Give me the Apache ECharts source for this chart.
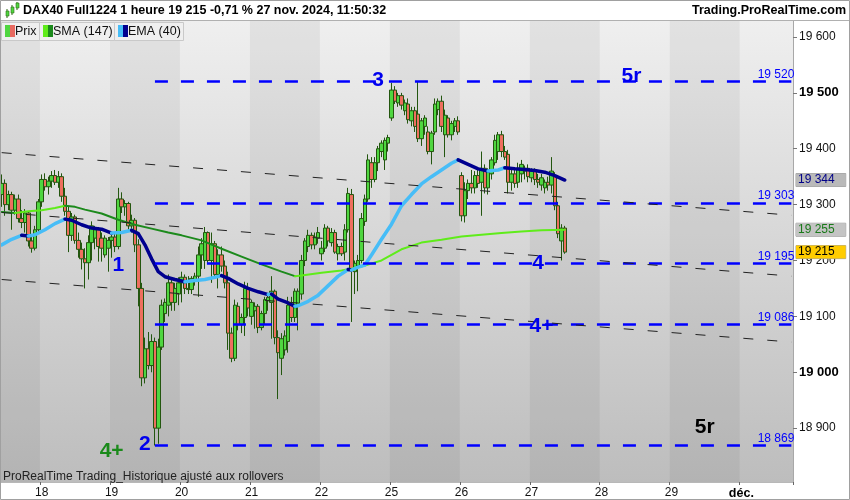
<!DOCTYPE html>
<html><head><meta charset="utf-8">
<script src="https://cdn.jsdelivr.net/npm/echarts@6/dist/echarts.min.js"></script>
<style>html,body{margin:0;padding:0;background:#fff}#c{width:850px;height:500px}</style>
</head><body><div id="c"></div>
<script>
const FONT = "'Liberation Sans', Arial, sans-serif";
// x axis: hourly slots (01:00-21:00 each trading day), Fri 15 nov partial
const dayLabels = ['18','19','20','21','22','25','26','27','28','29','déc.'];
const firstDaySlots = 12;
const slotsPerDay = 21;
const totalSlots = 238;
// OHLC (hourly) 15 nov 10h -> 27 nov 11h
const open = [
19318,19338,19300,19318,19290,19310,19275,19268,19285,19235,19222,19255,
19305,19345,19332,19342,19352,19340,19350,19315,19288,19245,19278,19236,19220,19203,19196,19232,19240,19255,19240,19210,19222,
19236,19242,19225,19310,19296,19302,19262,19272,19228,19150,18990,19042,19012,19055,18900,19045,19105,19120,19160,19125,19140,
19160,19170,19150,19148,19165,19172,19210,19200,19250,19200,19230,19175,19210,19190,19160,19070,19025,19118,19085,19098,19150,
19100,19110,19118,19080,19105,19128,19125,19145,19062,19025,19040,19055,19120,19098,19120,19140,19200,19225,19245,19228,19240,
19212,19222,19258,19232,19250,19212,19225,19215,19255,19318,19180,19190,19200,19270,19310,19375,19345,19375,19395,19380,19410,
19455,19505,19482,19495,19468,19480,19450,19468,19462,19418,19440,19430,19395,19430,19470,19485,19425,19455,19425,19440,19450,
19352,19280,19325,19338,19330,19352,19340,19365,19330,19355,19375,19395,19425,19395,19390,19340,19355,19340,19355,19360,19365,
19348,19360,19345,19335,19330,19340,19335,19350,19298,19235,19258];
const high = [
19354,19345,19325,19323,19318,19318,19290,19292,19288,19245,19262,19310,
19354,19356,19350,19360,19362,19360,19356,19330,19298,19285,19282,19250,19232,19222,19245,19270,19262,19260,19250,19245,19242,
19248,19250,19330,19322,19308,19305,19282,19276,19238,19160,19062,19072,19068,19062,19060,19130,19132,19175,19170,19160,19170,
19180,19175,19172,19172,19178,19225,19240,19260,19252,19250,19235,19220,19225,19200,19180,19080,19130,19125,19105,19162,19160,
19130,19125,19122,19110,19135,19138,19172,19148,19075,19070,19075,19135,19135,19150,19150,19210,19240,19255,19250,19250,19260,
19235,19265,19262,19258,19255,19230,19232,19265,19330,19328,19200,19210,19285,19318,19390,19385,19385,19405,19415,19420,19425,
19518,19512,19500,19500,19488,19490,19475,19475,19520,19455,19460,19440,19432,19490,19490,19495,19470,19460,19450,19455,19458,
19358,19340,19345,19362,19360,19365,19395,19372,19365,19385,19425,19430,19432,19405,19398,19365,19362,19375,19380,19370,19372,
19365,19365,19355,19355,19345,19350,19385,19358,19305,19265,19262];
const low = [
19296,19280,19290,19255,19282,19268,19258,19250,19225,19214,19218,19250,
19296,19325,19318,19330,19335,19330,19305,19280,19215,19235,19230,19205,19184,19150,19166,19200,19220,19198,19198,19205,19180,
19205,19215,19220,19285,19280,19255,19250,19215,19118,18975,18980,19005,19000,18869,18872,19040,19090,19100,19110,19110,19120,
19125,19140,19140,19140,19155,19135,19185,19185,19195,19160,19170,19150,19180,19150,19040,19018,19020,19075,19070,19065,19100,
19085,19078,19070,19075,19085,19110,19060,19050,18952,18995,19030,19035,19090,19090,19075,19130,19190,19215,19220,19220,19230,
19200,19215,19225,19225,19212,19200,19208,19200,19250,19090,19140,19145,19195,19262,19305,19330,19340,19360,19385,19362,19395,
19450,19480,19475,19470,19460,19445,19440,19430,19412,19405,19425,19390,19372,19425,19460,19430,19385,19420,19415,19430,19425,
19270,19268,19310,19320,19320,19330,19280,19320,19318,19345,19370,19380,19385,19380,19320,19325,19330,19330,19340,19345,19340,
19340,19335,19330,19325,19320,19325,19320,19290,19240,19200,19212];
const close = [
19338,19300,19318,19290,19310,19275,19268,19285,19235,19222,19255,19305,
19345,19332,19342,19352,19340,19350,19315,19288,19245,19278,19236,19220,19203,19196,19232,19262,19255,19225,19222,19240,19236,
19242,19225,19310,19296,19302,19262,19272,19228,19150,18990,19042,19012,19055,18900,19045,19120,19125,19160,19125,19150,19160,
19170,19150,19148,19168,19172,19210,19230,19250,19200,19230,19175,19210,19190,19160,19070,19025,19120,19085,19098,19150,19115,
19125,19118,19080,19105,19130,19134,19145,19062,19035,19060,19065,19120,19098,19145,19145,19200,19235,19245,19228,19242,19250,
19222,19258,19235,19250,19215,19225,19212,19255,19320,19185,19195,19200,19275,19310,19380,19345,19375,19400,19410,19415,19420,
19505,19485,19495,19478,19482,19452,19468,19440,19418,19450,19455,19395,19428,19480,19485,19440,19460,19425,19445,19450,19430,
19280,19325,19338,19330,19352,19338,19365,19330,19360,19380,19415,19425,19395,19385,19340,19355,19338,19365,19372,19365,19350,
19360,19345,19340,19348,19340,19335,19360,19298,19248,19258,19215];
// moving averages read at sampled slots [slot, value]
const sma147 = [[0,19287],[4,19285],[8,19288],[12,19290],[16,19294],[19,19298],[22,19296],[25,19291],[30,19284],[35,19273],[40,19264],[45,19257],[50,19250],[54,19245],[60,19236],[66,19221],[72,19207],[78,19193],[84,19180],[88,19172],[90,19173],[96,19178],[102,19182],[108,19189],[114,19200],[120,19220],[126,19232],[132,19237],[138,19243],[144,19246],[150,19249],[156,19252],[162,19254],[169,19255]];
const ema40 = [[0,19228],[3,19238],[6,19245],[8,19244],[10,19246],[13,19255],[16,19266],[19,19274],[21,19272],[24,19264],[27,19258],[30,19256],[33,19249],[36,19250],[39,19254],[41,19248],[43,19228],[45,19203],[47,19180],[49,19171],[52,19166],[55,19162],[58,19164],[61,19166],[64,19170],[66,19173],[68,19168],[71,19158],[74,19150],[77,19144],[80,19139],[81,19140],[83,19131],[86,19124],[88,19118],[89,19119],[92,19127],[95,19138],[98,19155],[101,19172],[104,19184],[105,19183],[107,19188],[109,19192],[111,19210],[114,19238],[117,19265],[120,19298],[123,19318],[126,19337],[129,19350],[132,19362],[135,19374],[137,19380],[140,19372],[143,19364],[146,19360],[149,19362],[151,19366],[154,19364],[157,19363],[160,19361],[163,19358],[166,19352],[169,19344]];
// drawn levels
const levels = [19520, 19303, 19195, 19086, 18869];
const levelStartSlot = 46;
const trendLines = [[19393, 19281], [19286, 19172], [19166, 19054]];
const lastEma = 19344, lastSma = 19255, lastPrice = 19215;
const notes = [
  {text:'3', slot:113.3, value:19523, color:'#0000ee'},
  {text:'5r', slot:189.3, value:19530, color:'#0000ee'},
  {text:'1', slot:35.2, value:19191, color:'#0000ee'},
  {text:'4', slot:161, value:19196, color:'#0000ee'},
  {text:'4+', slot:162.3, value:19082, color:'#0000ee'},
  {text:'2', slot:42.7, value:18871, color:'#0000ee'},
  {text:'4+', slot:32.5, value:18859, color:'#1a8a1a'},
  {text:'5r', slot:211.2, value:18902, color:'#000000'}
];

const fmt = v => String(Math.round(v)).replace(/\B(?=(\d{3})+(?!\d))/g, ' ');
const cats = Array.from({length: totalSlots}, (_, i) => String(i));
const labelAt = {};
dayLabels.forEach((l, k) => { labelAt[firstDaySlots + k * slotsPerDay] = l; });
const candles = open.map((o, i) => [o, close[i], low[i], high[i]]);

function maRuns(pts, upColor, downColor, width) {
  const out = []; let cur = null, dir = null;
  for (let j = 1; j < pts.length; j++) {
    const d = pts[j][1] >= pts[j-1][1] ? 'up' : 'down';
    if (d !== dir) { cur = {d, data:[pts[j-1]]}; out.push(cur); dir = d; }
    cur.data.push(pts[j]);
  }
  return out.map(r => ({type:'line', data:r.data, symbol:'none', silent:true, z:4,
    lineStyle:{color: r.d === 'up' ? upColor : downColor, width, cap:'round', join:'round'}}));
}

const markLines = [];
levels.forEach(v => markLines.push([
  {coord:[levelStartSlot, v], lineStyle:{color:'#0000ff', width:2.5, type:[13,13]},
   label:{show:true, position:'insideEndTop', formatter: fmt(v), color:'#0000ff', fontSize:12, fontFamily:FONT, distance:[-3,1]}},
  {coord:[totalSlots - 1, v]}]));
trendLines.forEach(t => markLines.push([
  {coord:[0, t[0]], lineStyle:{color:'#222', width:1, type:[10,14]}, label:{show:false}},
  {coord:[totalSlots - 1, t[1]]}]));

const valueBoxes = [[lastEma,'#000088','#b9b9b9'],[lastSma,'#1a7a1a','#c4c4c4'],[lastPrice,'#000','#ffcc00']];

const series = [{
  type:'candlestick', name:'Prix', data:candles, barWidth:4, z:3,
  itemStyle:{color:'#4fd640', color0:'#ee6f5f', borderColor:'#23560f', borderColor0:'#23560f', borderWidth:1},
  markLine:{symbol:['none','none'], silent:true, animation:false, data:markLines},
  markPoint:{symbol:'circle', symbolSize:1, silent:true, itemStyle:{color:'transparent'},
    data: notes.map(n => ({coord:[n.slot, n.value], label:{show:true, position:'inside', formatter:n.text,
      color:n.color, fontSize:21, fontWeight:'bold', fontFamily:FONT}}))}
}].concat(maRuns(sma147, '#5fec1a', '#1c8a1c', 2), maRuns(ema40, '#47bdf7', '#00008f', 3.5));

series.push({type:'line', data:[], z:6, silent:true,
  markLine:{symbol:['none','none'], silent:true, animation:false,
    data: valueBoxes.map(a => ({yAxis:a[0], lineStyle:{color:'rgba(0,0,0,0)', width:1},
      label:{show:true, position:'end', distance:3, formatter: fmt(a[0]), color:a[1], backgroundColor:a[2],
        fontSize:12, fontFamily:FONT, padding:[1,11,0,2], borderColor:'#9a9a9a', borderWidth:0.5}}))}});

const legendItems = [
  {x:1, w:38, label:'Prix', c1:'#4fd640', c2:'#e86a60'},
  {x:39, w:75, label:'SMA (147)', c1:'#5fec1a', c2:'#1c8a1c'},
  {x:114, w:69, label:'EMA (40)', c1:'#47bdf7', c2:'#00008f'}
];
const graphic = [
  {type:'rect', z:100, shape:{x:0, y:0, width:850, height:20}, style:{fill:'#fff'}},
  {type:'line', z:100, shape:{x1:0, y1:20.5, x2:850, y2:20.5}, style:{stroke:'#b0b0b0', lineWidth:1}},
  {type:'text', z:101, x:23, y:11, style:{text:'DAX40 Full1224 1 heure 19 215 -0,71 % 27 nov. 2024, 11:50:32',
    font:'bold 12.5px ' + FONT, fill:'#000', align:'left', verticalAlign:'middle'}},
  {type:'text', z:101, x:846, y:11, style:{text:'Trading.ProRealTime.com', font:'bold 12.5px ' + FONT, fill:'#000', align:'right', verticalAlign:'middle'}},
  {type:'line', z:101, shape:{x1:7, y1:9, x2:7, y2:18}, style:{stroke:'#2e6b12', lineWidth:1}},
  {type:'rect', z:102, shape:{x:6, y:11, width:3, height:5}, style:{fill:'#4fd640', stroke:'#2e6b12', lineWidth:0.6}},
  {type:'line', z:101, shape:{x1:12, y1:5, x2:12, y2:15}, style:{stroke:'#2e6b12', lineWidth:1}},
  {type:'rect', z:102, shape:{x:11, y:7, width:3, height:6}, style:{fill:'#4fd640', stroke:'#2e6b12', lineWidth:0.6}},
  {type:'line', z:101, shape:{x1:17, y1:2, x2:17, y2:10}, style:{stroke:'#2e6b12', lineWidth:1}},
  {type:'rect', z:102, shape:{x:16, y:3, width:3, height:5}, style:{fill:'#4fd640', stroke:'#2e6b12', lineWidth:0.6}},
  {type:'rect', z:100, shape:{x:0.5, y:0.5, width:849, height:499}, style:{fill:'none', stroke:'#a0a0a0', lineWidth:1}},
  {type:'text', z:100, x:3, y:477, style:{text:'ProRealTime Trading_Historique ajusté aux rollovers', font:'12px ' + FONT, fill:'#222', align:'left', verticalAlign:'middle'}}
];
legendItems.forEach(l => {
  graphic.push({type:'rect', z:100, shape:{x:l.x + 0.5, y:22.5, width:l.w, height:18}, style:{fill:'#efefef', stroke:'#c9c9c9', lineWidth:1}});
  graphic.push({type:'text', z:101, x:l.x + 14, y:32, style:{text:l.label, font:'12.5px ' + FONT, fill:'#111', align:'left', verticalAlign:'middle'}});
  graphic.push({type:'rect', z:102, shape:{x:l.x + 4, y:25, width:5, height:12}, style:{fill:l.c1}});
  graphic.push({type:'rect', z:102, shape:{x:l.x + 9, y:25, width:5, height:12}, style:{fill:l.c2}});
});

const chart = echarts.init(document.getElementById('c'), null, {renderer:'canvas'});
chart.setOption({
  animation:false,
  backgroundColor:'#fff',
  textStyle:{fontFamily:FONT},
  grid:{left:0, right:57, top:21, bottom:17, show:true, borderWidth:0,
    backgroundColor: new echarts.graphic.LinearGradient(0, 0, 0, 1, [{offset:0, color:'#efefef'}, {offset:1, color:'#bdbdbd'}])},
  xAxis:{type:'category', data:cats, boundaryGap:true,
    axisLine:{show:true, lineStyle:{color:'#b8b8b8'}},
    axisTick:{show:true, interval:i => labelAt[i] !== undefined, length:3, lineStyle:{color:'#666'}},
    axisLabel:{interval:i => labelAt[i] !== undefined, margin:5, color:'#111', fontSize:12, fontFamily:FONT,
      formatter:(v, i) => { const l = labelAt[i] || ''; return l === 'déc.' ? '{b|' + l + '}' : l; },
      rich:{b:{fontWeight:'bold', fontSize:12.5, fontFamily:FONT, color:'#000'}}},
    splitLine:{show:false},
    splitArea:{show:true, interval:i => i === 0 || labelAt[i] !== undefined,
      areaStyle:{color:['rgba(0,0,0,0.05)', 'rgba(0,0,0,0)']}}},
  yAxis:{type:'value', position:'right', min:18803.6, max:19628.6, splitNumber:8,
    axisLine:{show:true, lineStyle:{color:'#a8a8a8'}},
    axisTick:{show:true, length:4, lineStyle:{color:'#777'}},
    splitLine:{show:false},
    axisLabel:{showMinLabel:false, showMaxLabel:false, margin:6, color:'#111', fontSize:12, fontFamily:FONT,
      formatter:v => { if (Math.abs(v % 100) > 0.01) return ''; const s = fmt(v); return v % 500 === 0 ? '{b|' + s + '}' : s; },
      rich:{b:{fontWeight:'bold', fontSize:13, fontFamily:FONT, color:'#000'}}}},
  series:series,
  graphic:graphic
});
</script></body></html>
